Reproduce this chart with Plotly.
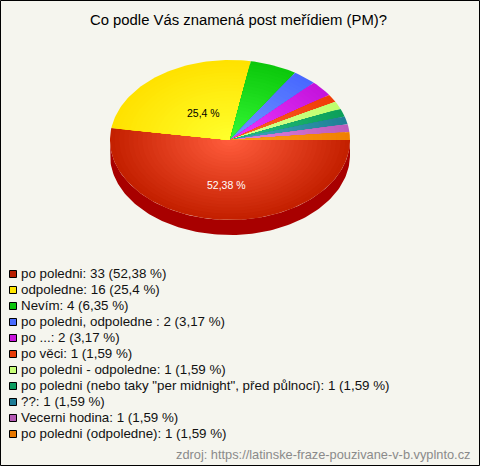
import math
import plotly.graph_objects as go

title = "Co podle Vás znamená post meřídiem (PM)?"
source = "zdroj: https://latinske-fraze-pouzivane-v-b.vyplnto.cz"
categories = ["po poledni", "odpoledne", "Nevím", "po poledni, odpoledne ", "po ...", "po věci",
              "po poledni - odpoledne", "po poledni (nebo taky \"per midnight\", před půlnocí)",
              "??", "Vecerni hodina", "po poledni (odpoledne)"]
counts = [33, 16, 4, 2, 2, 1, 1, 1, 1, 1, 1]
percents = ["52,38", "25,4", "6,35", "3,17", "3,17", "1,59", "1,59", "1,59", "1,59", "1,59", "1,59"]
swatch = ["#b81e00", "#ffe600", "#0cc40c", "#4a6cff", "#c814dc", "#e83c08", "#c8ff78", "#0c9c60", "#1e7c96", "#b45ab4", "#e87800"]
edge = [(196,32,0), (255,226,0), (12,200,12), (72,104,255), (196,20,220), (240,60,8), (190,255,110), (12,160,90), (32,128,150), (188,92,188), (240,128,0)]
core = [(255,92,60), (255,255,44), (52,248,52), (112,152,255), (236,56,255), (255,100,40), (220,255,150), (40,190,130), (64,170,190), (226,134,226), (255,160,30)]
side_color = "#a80000"

CX, CY, RX, RY, DEPTH = 230, 140, 120, 80, 15
RINGS = 26
total = sum(counts)
fig = go.Figure()


def arc(a0, a1, sx, sy, dy=0):
    n = max(2, int(abs(a1 - a0) / 1.5))
    pts = [a0 + (a1 - a0) * i / n for i in range(n + 1)]
    return ([CX + sx * math.cos(math.radians(a)) for a in pts],
            [CY + dy + sy * math.sin(math.radians(a)) for a in pts])


# side wall
xt, yt = arc(0, 180, RX, RY)
xb, yb = arc(180, 0, RX, RY, DEPTH)
fig.add_trace(go.Scatter(x=xt + xb, y=yt + yb, mode="lines", fill="toself",
                         fillcolor=side_color, line=dict(width=0), hoverinfo="skip"))

# slices: drawn as nested wedges to make the radial shading
start = 0.0
for i, c in enumerate(counts):
    end = start + 360.0 * c / total
    for r in range(RINGS):
        t = r / (RINGS - 1)
        s = 1 - r / RINGS
        col = tuple(round(edge[i][k] + (core[i][k] - edge[i][k]) * t) for k in range(3))
        x, y = arc(start, end, RX * s, RY * s)
        fig.add_trace(go.Scatter(x=[CX] + x + [CX], y=[CY] + y + [CY], mode="lines", fill="toself",
                                 fillcolor=f"rgb{col}", line=dict(width=0), hoverinfo="skip"))
    start = end

FONT = "Liberation Sans, Arial, sans-serif"


def txt(x, y, s, size, color, anchor="left"):
    fig.add_annotation(x=x, y=y, text=s, showarrow=False, xanchor=anchor, yanchor="middle",
                       font=dict(family=FONT, size=size, color=color), xref="x", yref="y")


txt(238, 20, title, 14.85, "#000000", "center")
txt(203, 113, percents[1] + " %", 10.5, "#000000", "center")
txt(226, 185, percents[0] + " %", 10.5, "#ffffff", "center")

fig.add_trace(go.Scatter(x=[13] * len(categories), y=[274 + 16 * i for i in range(len(categories))],
                         mode="markers", hoverinfo="skip",
                         marker=dict(symbol="square", size=7, color=swatch, line=dict(color="#000000", width=1))))
for i, cat in enumerate(categories):
    txt(18.5, 274 + 16 * i - 0.5, f"{cat}: {counts[i]} ({percents[i]} %)", 13.35, "#111111")
txt(472, 454, source, 12.8, "#8a8a8a", "right")

fig.update_layout(width=480, height=466, margin=dict(l=0, r=0, t=0, b=0), showlegend=False,
                  paper_bgcolor="#f5f5ee", plot_bgcolor="#f5f5ee",
                  xaxis=dict(range=[0, 480], visible=False, fixedrange=True),
                  yaxis=dict(range=[466, 0], visible=False, fixedrange=True),
                  shapes=[dict(type="rect", xref="x", yref="y", x0=0.5, y0=0.5, x1=479.5, y1=465.5,
                               line=dict(color="#000000", width=1), fillcolor="rgba(0,0,0,0)")])
fig.write_html("out.html", config={"displayModeBar": False},
               post_script="document.body.style.margin='0';document.documentElement.style.overflow='hidden';")
